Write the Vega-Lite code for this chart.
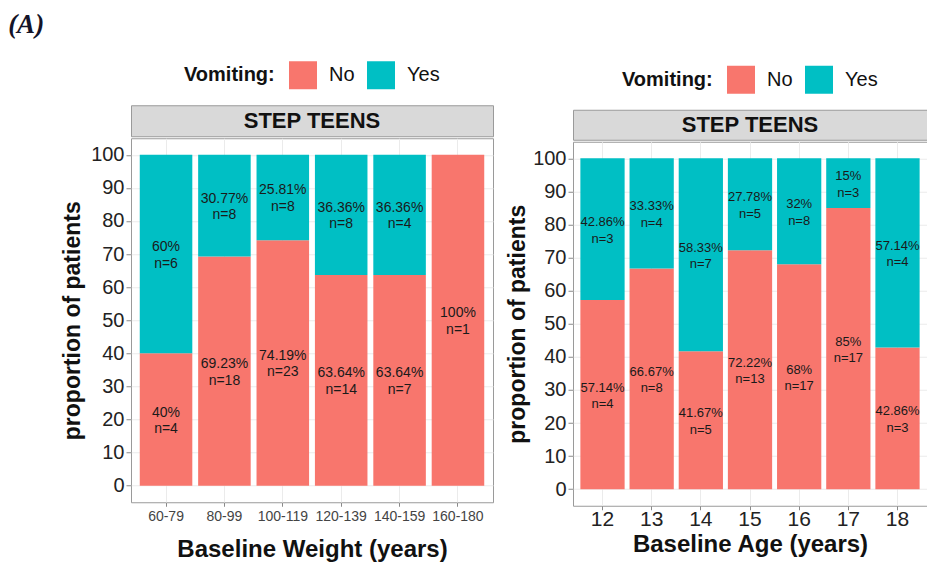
{
  "$schema": "https://vega.github.io/schema/vega-lite/v6.json",
  "padding": {"left": 8, "top": 10, "right": 0, "bottom": 0},
  "background": "white",
  "title": {"text": "(A)", "anchor": "start", "frame": "bounds", "dx": -53, "font": "Liberation Serif", "fontStyle": "italic", "fontWeight": "bold", "fontSize": 27, "color": "#141428", "offset": 22},
  "datasets": {
    "weight": [
      {"wt": "60-79", "vom": "No", "pct": 40, "lab": "40%\nn=4"},
      {"wt": "60-79", "vom": "Yes", "pct": 60, "lab": "60%\nn=6"},
      {"wt": "80-99", "vom": "No", "pct": 69.23, "lab": "69.23%\nn=18"},
      {"wt": "80-99", "vom": "Yes", "pct": 30.77, "lab": "30.77%\nn=8"},
      {"wt": "100-119", "vom": "No", "pct": 74.19, "lab": "74.19%\nn=23"},
      {"wt": "100-119", "vom": "Yes", "pct": 25.81, "lab": "25.81%\nn=8"},
      {"wt": "120-139", "vom": "No", "pct": 63.64, "lab": "63.64%\nn=14"},
      {"wt": "120-139", "vom": "Yes", "pct": 36.36, "lab": "36.36%\nn=8"},
      {"wt": "140-159", "vom": "No", "pct": 63.64, "lab": "63.64%\nn=7"},
      {"wt": "140-159", "vom": "Yes", "pct": 36.36, "lab": "36.36%\nn=4"},
      {"wt": "160-180", "vom": "No", "pct": 100, "lab": "100%\nn=1"}
    ],
    "age": [
      {"age": "12", "vom": "No", "pct": 57.14, "lab": "57.14%\nn=4"},
      {"age": "12", "vom": "Yes", "pct": 42.86, "lab": "42.86%\nn=3"},
      {"age": "13", "vom": "No", "pct": 66.67, "lab": "66.67%\nn=8"},
      {"age": "13", "vom": "Yes", "pct": 33.33, "lab": "33.33%\nn=4"},
      {"age": "14", "vom": "No", "pct": 41.67, "lab": "41.67%\nn=5"},
      {"age": "14", "vom": "Yes", "pct": 58.33, "lab": "58.33%\nn=7"},
      {"age": "15", "vom": "No", "pct": 72.22, "lab": "72.22%\nn=13"},
      {"age": "15", "vom": "Yes", "pct": 27.78, "lab": "27.78%\nn=5"},
      {"age": "16", "vom": "No", "pct": 68, "lab": "68%\nn=17"},
      {"age": "16", "vom": "Yes", "pct": 32, "lab": "32%\nn=8"},
      {"age": "17", "vom": "No", "pct": 85, "lab": "85%\nn=17"},
      {"age": "17", "vom": "Yes", "pct": 15, "lab": "15%\nn=3"},
      {"age": "18", "vom": "No", "pct": 42.86, "lab": "42.86%\nn=3"},
      {"age": "18", "vom": "Yes", "pct": 57.14, "lab": "57.14%\nn=4"}
    ],
    "strip": [{"panel": "STEP TEENS"}]
  },
  "hconcat": [
    {
      "spacing": 0,
      "resolve": {"scale": {"color": "independent"}, "legend": {"color": "independent"}},
      "vconcat": [
        {
          "width": 362, "height": 31,
          "view": {"fill": "#D9D9D9", "stroke": "#9a9a9a"},
          "layer": [
            {"data": {"name": "strip"}, "mark": {"type": "text", "fontSize": 22, "fontWeight": "bold", "color": "#111111"}, "encoding": {"text": {"field": "panel"}}},
            {"data": {"name": "weight"}, "mark": {"type": "square", "opacity": 0}, "encoding": {"color": {"field": "vom", "type": "nominal", "scale": {"domain": ["No", "Yes"], "range": ["#F8766D", "#00BFC4"]}, "legend": {"title": "Vomiting:"}}}}
          ]
        },
        {
          "width": 362, "height": 364,
          "data": {"name": "weight"},
          "encoding": {
            "x": {"field": "wt", "type": "ordinal", "sort": ["60-79", "80-99", "100-119", "120-139", "140-159", "160-180"], "scale": {"paddingInner": 0.1, "paddingOuter": 0.15}, "title": "Baseline Weight (years)",
              "axis": {"labelAngle": 0, "labelFontSize": 14, "labelColor": "#444444", "labelPadding": 3, "tickSize": 4, "titleFontSize": 24, "titlePadding": 14, "bandPosition": 0.5, "grid": true}}
          },
          "layer": [
            {
              "mark": {"type": "bar"},
              "encoding": {
                "y": {"field": "pct", "type": "quantitative", "stack": "zero", "scale": {"domain": [-5, 105], "nice": false, "zero": false}, "title": "proportion of patients",
                  "axis": {"values": [0, 10, 20, 30, 40, 50, 60, 70, 80, 90, 100], "labelOverlap": false, "labelFontSize": 20, "labelPadding": 2, "tickSize": 5, "titleFontSize": 23, "titlePadding": 6, "grid": true}},
                "color": {"field": "vom", "type": "nominal", "scale": {"domain": ["No", "Yes"], "range": ["#F8766D", "#00BFC4"]}, "legend": null},
                "order": {"field": "vom", "sort": "ascending"}
              }
            },
            {
              "transform": [
                {"stack": "pct", "groupby": ["wt"], "sort": [{"field": "vom", "order": "ascending"}], "as": ["y0", "y1"]},
                {"calculate": "(datum.y0 + datum.y1) / 2", "as": "ymid"}
              ],
              "mark": {"type": "text", "fontSize": 14, "color": "#1a1a1a", "lineBreak": "\n", "lineHeight": 16.5, "baseline": "middle", "dy": -7},
              "encoding": {
                "y": {"field": "ymid", "type": "quantitative", "title": "proportion of patients",
                  "axis": {"values": [0, 10, 20, 30, 40, 50, 60, 70, 80, 90, 100], "labelOverlap": false, "labelFontSize": 20, "labelPadding": 2, "tickSize": 5, "titleFontSize": 23, "titlePadding": 6, "grid": true}},
                "text": {"field": "lab"}
              }
            }
          ]
        }
      ]
    },
    {
      "title": {"text": " ", "fontSize": 4, "offset": 0},
      "spacing": 0,
      "resolve": {"scale": {"color": "independent"}, "legend": {"color": "independent"}},
      "vconcat": [
        {
          "width": 354, "height": 30,
          "view": {"fill": "#D9D9D9", "stroke": "#9a9a9a"},
          "layer": [
            {"data": {"name": "strip"}, "mark": {"type": "text", "fontSize": 22, "fontWeight": "bold", "color": "#111111"}, "encoding": {"text": {"field": "panel"}}},
            {"data": {"name": "age"}, "mark": {"type": "square", "opacity": 0}, "encoding": {"color": {"field": "vom", "type": "nominal", "scale": {"domain": ["No", "Yes"], "range": ["#F8766D", "#00BFC4"]}, "legend": {"title": "Vomiting:"}}}}
          ]
        },
        {
          "width": 354, "height": 364,
          "data": {"name": "age"},
          "encoding": {
            "x": {"field": "age", "type": "ordinal", "scale": {"paddingInner": 0.1, "paddingOuter": 0.15}, "title": "Baseline Age (years)",
              "axis": {"labelAngle": 0, "labelFontSize": 21, "labelPadding": -1.5, "tickSize": 4, "titleFontSize": 24, "titlePadding": 3.5, "bandPosition": 0.5, "grid": true}}
          },
          "layer": [
            {
              "mark": {"type": "bar"},
              "encoding": {
                "y": {"field": "pct", "type": "quantitative", "stack": "zero", "scale": {"domain": [-5, 105], "nice": false, "zero": false}, "title": "proportion of patients",
                  "axis": {"values": [0, 10, 20, 30, 40, 50, 60, 70, 80, 90, 100], "labelOverlap": false, "labelFontSize": 20, "labelPadding": 2, "tickSize": 5, "titleFontSize": 23, "titlePadding": 3, "grid": true}},
                "color": {"field": "vom", "type": "nominal", "scale": {"domain": ["No", "Yes"], "range": ["#F8766D", "#00BFC4"]}, "legend": null},
                "order": {"field": "vom", "sort": "ascending"}
              }
            },
            {
              "transform": [
                {"stack": "pct", "groupby": ["age"], "sort": [{"field": "vom", "order": "ascending"}], "as": ["y0", "y1"]},
                {"calculate": "(datum.y0 + datum.y1) / 2", "as": "ymid"}
              ],
              "mark": {"type": "text", "fontSize": 13, "color": "#1a1a1a", "lineBreak": "\n", "lineHeight": 16.5, "baseline": "middle", "dy": -7},
              "encoding": {
                "y": {"field": "ymid", "type": "quantitative", "title": "proportion of patients",
                  "axis": {"values": [0, 10, 20, 30, 40, 50, 60, 70, 80, 90, 100], "labelOverlap": false, "labelFontSize": 20, "labelPadding": 2, "tickSize": 5, "titleFontSize": 23, "titlePadding": 3, "grid": true}},
                "text": {"field": "lab"}
              }
            }
          ]
        }
      ]
    }
  ],
  "spacing": 12,
  "center": true,
  "resolve": {"scale": {"color": "independent", "x": "independent", "y": "independent"}, "legend": {"color": "independent"}},
  "config": {
    "font": "Liberation Sans",
    "view": {"stroke": "#9a9a9a"},
    "axis": {"labelFont": "Liberation Sans", "titleFont": "Liberation Sans", "titleFontWeight": "bold", "titleColor": "#111111", "labelColor": "#222222", "tickColor": "#8a8a8a", "domain": false, "gridColor": "#ebebeb"},
    "legend": {
      "orient": "top", "direction": "horizontal", "titleOrient": "left", "titleFont": "Liberation Sans", "labelFont": "Liberation Sans",
      "titleFontSize": 20, "titleFontWeight": "bold", "titleColor": "#111111", "labelFontSize": 20, "labelColor": "#111111",
      "symbolType": "square", "symbolSize": 784, "symbolOpacity": 1, "symbolStrokeWidth": 0,
      "labelOffset": 12, "columnPadding": 12, "titlePadding": 14, "offset": 16, "padding": 0,
      "layout": {"top": {"anchor": "middle"}}
    }
  }
}
